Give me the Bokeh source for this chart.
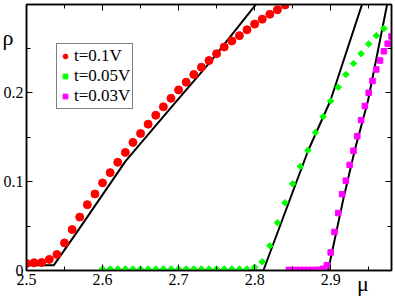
from bokeh.plotting import figure
from bokeh.models import (Range1d, FixedTicker, LinearAxis, Label, Legend, LegendItem,
                          CustomLabelingPolicy)
from bokeh.embed import file_html
from bokeh.resources import INLINE

# t = 0.1V data (red circles)
red_x = [2.50, 2.51, 2.52, 2.53, 2.54, 2.55, 2.56, 2.57, 2.58, 2.59,
         2.60, 2.61, 2.62, 2.63, 2.64, 2.65, 2.66, 2.67, 2.68, 2.69,
         2.70, 2.71, 2.72, 2.73, 2.74, 2.75, 2.76, 2.77, 2.78, 2.79,
         2.80, 2.81, 2.82, 2.83, 2.84]
red_y = [0.008, 0.0087, 0.009, 0.0125, 0.018, 0.031, 0.046, 0.060, 0.074, 0.086,
         0.0985, 0.110, 0.1216, 0.1327, 0.144, 0.154, 0.1645, 0.1745, 0.184, 0.1935,
         0.203, 0.2117, 0.2203, 0.2285, 0.236, 0.2437, 0.2512, 0.258, 0.264, 0.2706,
         0.277, 0.2825, 0.288, 0.293, 0.2985]

# t = 0.05V data (green diamonds)
green_x = [2.60, 2.61, 2.62, 2.63, 2.64, 2.65, 2.66, 2.67, 2.68, 2.69,
           2.70, 2.71, 2.72, 2.73, 2.74, 2.75, 2.76, 2.77, 2.78, 2.79,
           2.80, 2.81, 2.82, 2.83, 2.84, 2.85, 2.86, 2.87, 2.88, 2.89,
           2.90, 2.91, 2.92, 2.93, 2.94, 2.95, 2.96, 2.97]
green_y = [0.0017, 0.0017, 0.0017, 0.0017, 0.0017, 0.0017, 0.0017, 0.0017, 0.0017, 0.0017,
           0.0017, 0.0017, 0.0017, 0.0017, 0.0017, 0.0017, 0.0017, 0.0017, 0.0017, 0.0017,
           0.0036, 0.0098, 0.0277, 0.0538, 0.0762, 0.0974, 0.117, 0.135, 0.155, 0.173,
           0.1905, 0.206, 0.2203, 0.2326, 0.2437, 0.2545, 0.264, 0.272]

# t = 0.03V data (magenta squares)
mag_x = [2.845, 2.850, 2.855, 2.860, 2.865, 2.870, 2.875, 2.880, 2.885, 2.890,
         2.895, 2.900, 2.905, 2.910, 2.915, 2.920, 2.925, 2.930, 2.935, 2.940,
         2.945, 2.950, 2.955, 2.960, 2.965, 2.970, 2.975, 2.980]
mag_y = [0.0006, 0.0006, 0.0006, 0.0006, 0.0006, 0.0006, 0.0006, 0.0006, 0.0008, 0.002,
         0.006, 0.0203, 0.0434, 0.0646, 0.0858, 0.101, 0.1187, 0.1346, 0.151, 0.169,
         0.185, 0.1998, 0.213, 0.226, 0.236, 0.2464, 0.255, 0.263]

# theory curves (black lines)
fit1_x = [2.50, 2.536, 2.567, 2.6303, 2.69, 2.7417, 2.8028, 2.81]
fit1_y = [0.006, 0.006, 0.044, 0.1229, 0.183, 0.2346, 0.3003, 0.309]
fit2_x = [2.60, 2.8115, 2.8703, 2.8995, 2.9425, 2.946]
fit2_y = [0.0, 0.0, 0.1346, 0.1905, 0.3024, 0.311]
fit3_x = [2.85, 2.8966, 2.9163, 2.9315, 2.949, 2.975, 2.977]
fit3_y = [0.0, 0.0, 0.0788, 0.1346, 0.1905, 0.3024, 0.31]

legend_labels = ["t=0.1V", "t=0.05V", "t=0.03V"]
x_major = [2.5, 2.6, 2.7, 2.8, 2.9]
x_minor = [2.55, 2.65, 2.75, 2.85, 2.95]
y_major = [0, 0.1, 0.2]
y_minor = [0.05, 0.15, 0.25]

FONT = "Liberation Serif"
LEFT_PANEL = 50      # fixed left border (holds axis + the two symbol labels)
SHIFT = LEFT_PANEL - 26

p = figure(width=395 + SHIFT, height=301, output_backend="svg", toolbar_location=None,
           x_range=Range1d(2.5, 2.98), y_range=Range1d(0, 0.299),
           min_border_left=LEFT_PANEL, min_border_right=3, min_border_top=2,
           min_border_bottom=31)
p.margin = (0, 0, 0, -SHIFT)
p.xgrid.visible = False
p.ygrid.visible = False
p.outline_line_color = "black"
p.outline_line_width = 1.5
p.background_fill_color = "white"
p.border_fill_color = "white"

hide_labels = CustomLabelingPolicy(
    code="for (let i = 0; i < indices.size; i++) { indices.unset(i) } return indices")


def style_axis(ax, show_labels):
    ax.axis_line_color = "black"
    ax.axis_line_width = 1.5
    ax.major_tick_in = 6
    ax.major_tick_out = 0
    ax.minor_tick_in = 4
    ax.minor_tick_out = 0
    ax.major_tick_line_color = "black"
    ax.minor_tick_line_color = "black"
    ax.major_tick_line_width = 1
    ax.minor_tick_line_width = 1
    ax.major_label_text_font = FONT
    ax.major_label_text_color = "black"
    if show_labels:
        ax.major_label_text_font_size = "16px"
        ax.major_label_standoff = 3
    else:
        ax.major_label_text_font_size = "1px"
        ax.major_label_standoff = 0
        ax.major_label_policy = hide_labels


p.xaxis.ticker = FixedTicker(ticks=x_major, minor_ticks=x_minor)
p.yaxis.ticker = FixedTicker(ticks=y_major, minor_ticks=y_minor)
p.yaxis.major_label_overrides = {0: "0", 0.1: "0.1", 0.2: "0.2"}
style_axis(p.xaxis[0], True)
style_axis(p.yaxis[0], True)

top_axis = LinearAxis(ticker=FixedTicker(ticks=x_major, minor_ticks=x_minor))
right_axis = LinearAxis(ticker=FixedTicker(ticks=y_major, minor_ticks=y_minor))
style_axis(top_axis, False)
style_axis(right_axis, False)
p.add_layout(top_axis, "above")
p.add_layout(right_axis, "right")

l1 = p.line(fit1_x, fit1_y, line_color="black", line_width=2)
l2 = p.line(fit2_x, fit2_y, line_color="black", line_width=2)
l3 = p.line(fit3_x, fit3_y, line_color="black", line_width=2)

r1 = p.scatter(red_x, red_y, marker="circle", size=8, fill_color="#ff0000", line_color="#ff0000")
r2 = p.scatter(green_x, green_y, marker="square", angle=0.785398, size=4.6,
               fill_color="#00ff00", line_color="#00ff00")
r3 = p.scatter(mag_x, mag_y, marker="square", size=5.5, fill_color="#ff00ff", line_color="#ff00ff")

legend = Legend(items=[LegendItem(label=legend_labels[0], renderers=[r1]),
                       LegendItem(label=legend_labels[1], renderers=[r2]),
                       LegendItem(label=legend_labels[2], renderers=[r3])],
                location=(30, 161), orientation="vertical")
legend.label_text_font = FONT
legend.label_text_font_size = "17px"
legend.label_text_color = "black"
legend.label_height = 12
legend.glyph_height = 12
legend.glyph_width = 12
legend.label_standoff = 3
legend.spacing = 0
legend.padding = 2
legend.margin = 0
legend.border_line_color = "black"
legend.border_line_width = 1.5
legend.background_fill_color = "white"
legend.background_fill_alpha = 1
p.add_layout(legend, "center")

rho = Label(x=2.4758, y=0.2615, text="ρ", text_font=FONT, text_font_size="22px",
            text_align="center", text_baseline="alphabetic", text_color="black")
mu = Label(x=2.9425, y=-0.015, text="μ", text_font=FONT, text_font_size="22px",
           text_align="center", text_baseline="alphabetic", text_color="black")
p.add_layout(rho, "left")
p.add_layout(mu, "left")

open("out.html", "w").write(file_html(p, INLINE))
